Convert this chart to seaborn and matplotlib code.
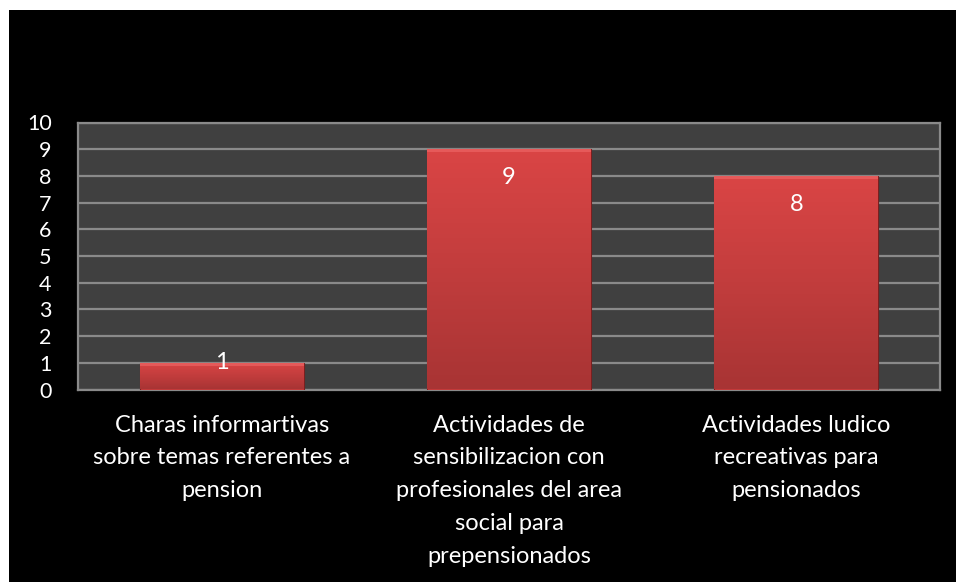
import matplotlib
matplotlib.use("Agg")
import matplotlib.pyplot as plt
import numpy as np
import pandas as pd
import seaborn as sns
from matplotlib.colors import LinearSegmentedColormap

categories = [
    "Charas informartivas\nsobre temas referentes a\npension",
    "Actividades de\nsensibilizacion con\nprofesionales del area\nsocial para\nprepensionados",
    "Actividades ludico\nrecreativas para\npensionados",
]
values = [1, 9, 8]
yticks = list(range(0, 11))

sns.set_style("dark")
plt.rcParams['font.family'] = ['Lato', 'DejaVu Sans']

fig = plt.figure(figsize=(9.56, 5.82), dpi=100)
fig.patch.set_facecolor("white")
# black background panel (white margin at top and left)
fig.add_artist(plt.Rectangle((9/956, 0), 1, 1 - 10/582, transform=fig.transFigure,
                             facecolor="black", edgecolor="none", zorder=0))

ax = fig.add_axes([78/956, 1 - 389.5/582, (940 - 78)/956, (389.5 - 122.5)/582])
ax.set_facecolor("#404040")

df = pd.DataFrame({"cat": categories, "val": values})
sns.barplot(data=df, x="cat", y="val", color="#C83C3C", width=0.57, ax=ax,
            saturation=1, edgecolor="#7a2020", linewidth=0.8, zorder=3)

ax.set_ylim(0, 10)
ax.set_yticks(yticks)
ax.set_yticklabels([str(t) for t in yticks])
ax.yaxis.grid(True, color="#8a8a8a", linewidth=1.6, zorder=1)
ax.xaxis.grid(False)
ax.set_axisbelow(True)
for s in ax.spines.values():
    s.set_visible(True)
    s.set_color("#8a8a8a")
    s.set_linewidth(1.6)

ax.tick_params(axis="y", colors="white", labelsize=15.5, length=0, pad=19)
ax.tick_params(axis="x", colors="white", labelsize=17, length=0, pad=18)
for lab in ax.get_xticklabels():
    lab.set_linespacing(1.7)
    lab.set_verticalalignment("top")
for lab in ax.get_yticklabels():
    lab.set_horizontalalignment("right")
ax.set_xlabel("")
ax.set_ylabel("")

# gradient fill on bars
cmap = LinearSegmentedColormap.from_list("redgrad", ["#A83434", "#C23D3D", "#DA4545"])
grad = np.linspace(0, 1, 256).reshape(-1, 1)
xlim = ax.get_xlim()
for p in ax.patches:
    x0, w, h = p.get_x(), p.get_width(), p.get_height()
    im = ax.imshow(grad, extent=[x0, x0 + w, 0, h], origin="lower", aspect="auto",
                   cmap=cmap, zorder=3.5)
    im.set_clip_path(p)
    # highlight strip at top
    ax.add_patch(plt.Rectangle((x0, h - 0.12), w, 0.12, facecolor="#F06A6A",
                               edgecolor="none", alpha=0.6, zorder=3.6))
ax.set_xlim(xlim)
ax.set_ylim(0, 10)

for i, v in enumerate(values):
    if v >= 2:
        ax.annotate(str(v), (i, v), xytext=(0, -13), textcoords="offset points",
                    ha="center", va="top", color="white", fontsize=17, zorder=5)
    else:
        ax.annotate(str(v), (i, v), xytext=(0, 0), textcoords="offset points",
                    ha="center", va="center", color="white", fontsize=17, zorder=5)

fig.savefig("out.png", dpi=100, facecolor=fig.get_facecolor())
